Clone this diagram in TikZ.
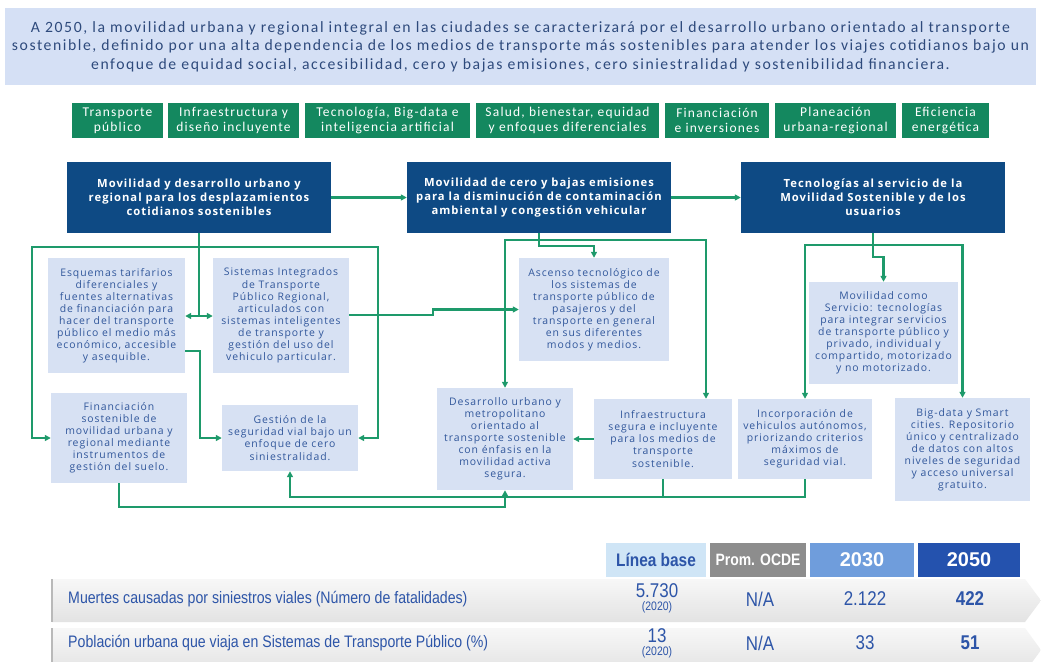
\documentclass[tikz,border=0pt]{standalone}
\usepackage{fontspec}
\setmainfont[LetterSpace=9]{Open Sans}
\newfontfamily\bannerfont[LetterSpace=10]{Carlito}
\newfontfamily\tabfont[LetterSpace=9]{Carlito}
\newfontfamily\tablefont[FakeStretch=0.85]{Liberation Sans}
\newfontfamily\yearfont{Liberation Sans}
\usetikzlibrary{arrows.meta}
\definecolor{navy}{HTML}{0E4A84}
\definecolor{leaf}{HTML}{14885F}
\definecolor{linkgreen}{HTML}{1E9A6B}
\definecolor{pale}{HTML}{D7E1F3}
\definecolor{bannerbg}{HTML}{D5E0F5}
\definecolor{inkblue}{HTML}{31579B}
\definecolor{bannerink}{HTML}{2E4A7C}
\definecolor{tblblue}{HTML}{2D55A8}
\definecolor{basecell}{HTML}{CFE5F6}
\definecolor{ocdecell}{HTML}{8D8D8D}
\definecolor{midcell}{HTML}{6F9DDC}
\definecolor{deepcell}{HTML}{2452AE}
\tikzset{
    px/.style 2 args={minimum width=#1*0.03cm, minimum height=#2*0.03cm},
    hdr/.style={fill=navy, text=white, align=center, inner sep=0pt,
        font=\bfseries\fontsize{9.6}{11.9}\selectfont},
    lbox/.style={fill=pale, text=inkblue, align=center, inner sep=0pt,
        font=\fontsize{8.9}{10.3}\selectfont},
    tab/.style={fill=leaf, text=white, align=center, inner sep=0pt,
        font=\tabfont\fontsize{11.5}{12.8}\selectfont},
    link/.style={draw=linkgreen, line width=2pt},
    arr/.style={link, -{Triangle[length=5pt,width=5pt]}},
    cell/.style={align=center, inner sep=0pt, px={#1}{34},
        font=\tablefont\bfseries\fontsize{15.5}{15}\selectfont},
    val/.style={align=center, inner sep=0pt, text=tblblue,
        font=\tablefont\fontsize{17}{13}\selectfont}
}

\begin{document}
\begin{tikzpicture}[x=0.03cm, y=-0.03cm]
    \useasboundingbox[fill=white] (0,0) rectangle (1041,661);
    \clip (0,0) rectangle (1041,661);

    % Banner
    \node[fill=bannerbg, text=bannerink, px={1031}{77}, align=center, inner sep=0pt,
        font=\bannerfont\fontsize{13.4}{15.7}\selectfont] (vision) at (520.5,46.5)
        {A 2050, la movilidad urbana y regional integral en las ciudades se caracterizará por el desarrollo urbano orientado al transporte\\
         sostenible, definido por una alta dependencia de los medios de transporte más sostenibles para atender los viajes cotidianos bajo un\\
         enfoque de equidad social, accesibilidad, cero y bajas emisiones, cero siniestralidad y sostenibilidad financiera.};

    % Tabs
    \node[tab, px={91}{35}] (t1) at (117.5,120.5) {Transporte\\público};
    \node[tab, px={131}{35}] (t2) at (233.5,120.5) {Infraestructura y\\diseño incluyente};
    \node[tab, px={165}{35}] (t3) at (387.5,120.5) {Tecnología, Big-data e\\inteligencia artificial};
    \node[tab, px={183}{35}] (t4) at (567.5,120.5) {Salud, bienestar, equidad\\y enfoques diferenciales};
    \node[tab, px={104}{35}] (t5) at (717,120.5) {Financiación\\e inversiones};
    \node[tab, px={121}{35}] (t6) at (835.5,120.5) {Planeación\\urbana-regional};
    \node[tab, px={87}{35}] (t7) at (945.5,120.5) {Eficiencia\\energética};

    % Headers
    \node[hdr, px={264}{71}] (h1) at (199,197.5) {Movilidad y desarrollo urbano y\\regional para los desplazamientos\\cotidianos sostenibles};
    \node[hdr, px={264}{71}] (h2) at (539,197.5) {Movilidad de cero y bajas emisiones\\para la disminución de contaminación\\ambiental y congestión vehicular};
    \node[hdr, px={264}{71}] (h3) at (873,197.5) {Tecnologías al servicio de la\\Movilidad Sostenible y de los\\usuarios};

    % Boxes
    \node[lbox, px={137}{115}] (tarifas) at (116.5,315.5) {Esquemas tarifarios\\diferenciales y\\fuentes alternativas\\de financiación para\\hacer del transporte\\público el medio más\\económico, accesible\\y asequible.};
    \node[lbox, px={136}{115}] (sitp) at (281,315.5) {Sistemas Integrados\\de Transporte\\Público Regional,\\articulados con\\sistemas inteligentes\\de transporte y\\gestión del uso del\\vehiculo particular.};
    \node[lbox, px={136}{90}] (suelo) at (119,438) {Financiación\\sostenible de\\movilidad urbana y\\regional mediante\\instrumentos de\\gestión del suelo.};
    \node[lbox, px={136}{66}] (segvial) at (290,438) {Gestión de la\\seguridad vial bajo un\\enfoque de cero\\siniestralidad.};
    \node[lbox, px={150}{103}] (ascenso) at (594,309.5) {Ascenso tecnológico de\\los sistemas de\\transporte público de\\pasajeros y del\\transporte en general\\en sus diferentes\\modos y medios.};
    \node[lbox, px={136}{102}] (dots) at (505,439) {Desarrollo urbano y\\metropolitano\\orientado al\\transporte sostenible\\con énfasis en la\\movilidad activa\\segura.};
    \node[lbox, px={149}{102}] (maas) at (883.5,333) {Movilidad como\\Servicio: tecnologías\\para integrar servicios\\de transporte público y\\privado, individual y\\compartido, motorizado\\y no motorizado.};
    \node[lbox, px={138}{80}] (infra) at (663,439) {Infraestructura\\segura e incluyente\\para los medios de\\transporte\\sostenible.};
    \node[lbox, px={134}{80}] (autonomos) at (805,439) {Incorporación de\\vehiculos autónomos,\\priorizando criterios\\máximos de\\seguridad vial.};
    \node[lbox, px={135}{103}] (bigdata) at (962.5,449.5) {Big-data y Smart\\cities. Repositorio\\único y centralizado\\de datos con altos\\niveles de seguridad\\y acceso universal\\gratuito.};

    % Header to header
    \draw[arr] (h1.east) -- (h2.west);
    \draw[arr] (h2.east) -- (h3.west);

    % First header
    \coordinate (split1) at (199,316);
    \coordinate (bus1) at (199,247);
    \draw[link] (h1.south) -- (split1);
    \draw[arr] (split1) -- (tarifas.east |- split1);
    \draw[arr] (split1) -- (sitp.west |- split1);
    \draw[arr] (bus1) -| (32,0 |- suelo.west) -- (suelo.west);
    \draw[arr] (bus1) -| (378,0 |- segvial.east) -- (segvial.east);
    \draw[arr] (tarifas.east |- 0,351) -| (200,0 |- segvial.west) -- (segvial.west);
    \draw[arr] (sitp.east |- 0,315) -- (433,315) |- (ascenso.west);

    % Second header
    \coordinate (bus2) at (539,240);
    \draw[arr] (h2.south) -- (539,246) -| (ascenso.north);
    \draw[arr] (bus2) -| (dots.north);
    \draw[arr] (bus2) -| (706,0 |- infra.north);
    \draw[arr] (infra.west) -- (dots.east);

    % Third header
    \coordinate (bus3) at (873,245);
    \draw[arr] (h3.south) -- (873,257) -| (maas.north);
    \draw[arr] (bus3) -| (autonomos.north);
    \draw[arr] (bus3) -| (bigdata.north);

    % Return lines
    \draw[arr] (suelo.south) -- (119,507) -| (dots.south);
    \draw[arr] (autonomos.south) |- (segvial.south |- 0,497) -- (segvial.south);
    \draw[link] (infra.south) -- (infra.south |- 0,497);

    % Table
    \node[cell=100, fill=basecell, text=tblblue] (base) at (656,560) {Línea base};
    \node[cell=96, fill=ocdecell, text=white, font=\tablefont\bfseries\fontsize{14}{14}\selectfont] (ocde) at (758,560) {Prom. OCDE};
    \node[cell=104, fill=midcell, text=white, font=\yearfont\bfseries\fontsize{17}{17}\selectfont] (y30) at (862,560) {2030};
    \node[cell=102, fill=deepcell, text=white, font=\yearfont\bfseries\fontsize{17}{17}\selectfont] (y50) at (969,560) {2050};

    \shade[top color=gray!6, bottom color=gray!22] (52,579) -- (1025,579) -- (1041,600.5) -- (1025,622) -- (52,622) -- cycle;
    \shade[top color=gray!6, bottom color=gray!22] (52,628) -- (1025,628) -- (1041,650) -- (1025,672) -- (52,672) -- cycle;
    \draw[gray!55, line width=1.5pt] (52,579) -- (52,622);
    \draw[gray!55, line width=1.5pt] (52,628) -- (52,672);

    \node[anchor=west, text=tblblue, inner sep=0pt, font=\tablefont\fontsize{14.2}{14}\selectfont] (row1) at (68,599) {Muertes causadas por siniestros viales (Número de fatalidades)};
    \node[anchor=west, text=tblblue, inner sep=0pt, font=\tablefont\fontsize{14.2}{14}\selectfont] (row2) at (68,643) {Población urbana que viaja en Sistemas de Transporte Público (\%)};

    \node[val] (r1base) at (657,598) {5.730\\[-2pt]{\fontsize{10.5}{10}\selectfont(2020)}};
    \node[val] (r1ocde) at (760,599) {N/A};
    \node[val] (r1y30) at (865,599) {2.122};
    \node[val, font=\tablefont\bfseries\fontsize{17}{13}\selectfont] (r1y50) at (970,599) {422};
    \node[val] (r2base) at (657,643) {13\\[-2pt]{\fontsize{10.5}{10}\selectfont(2020)}};
    \node[val] (r2ocde) at (760,643) {N/A};
    \node[val] (r2y30) at (865,643) {33};
    \node[val, font=\tablefont\bfseries\fontsize{17}{13}\selectfont] (r2y50) at (970,643) {51};
\end{tikzpicture}
\end{document}
